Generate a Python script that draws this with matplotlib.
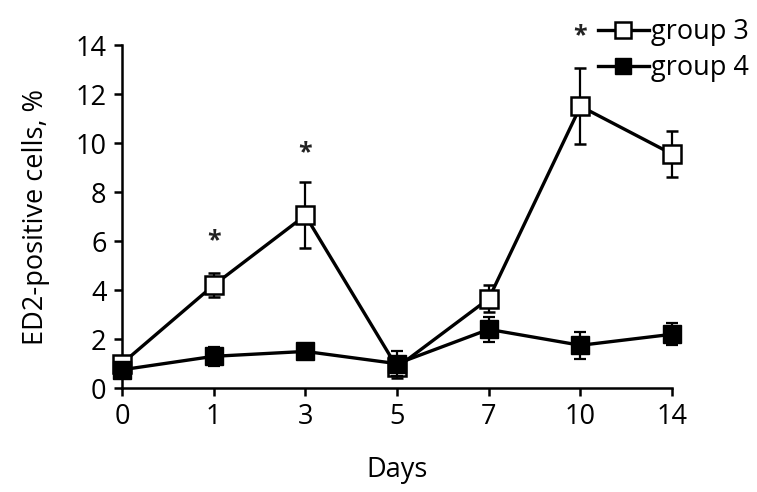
import matplotlib.pyplot as plt
from matplotlib.lines import Line2D

plt.rcParams['font.family'] = ['Open Sans', 'DejaVu Sans']

days = ['0', '1', '3', '5', '7', '10', '14']
group3 = [1.0, 4.2, 7.05, 0.85, 3.65, 11.5, 9.55]
group3_err = [0.2, 0.5, 1.35, 0.45, 0.55, 1.55, 0.95]
group4 = [0.75, 1.3, 1.5, 1.0, 2.4, 1.75, 2.2]
group4_err = [0.2, 0.4, 0.2, 0.5, 0.5, 0.55, 0.45]
star_days = ['1', '3', '10']
star_y = [6.0, 9.6, 14.4]

fig = plt.figure(figsize=(7.57, 4.92), dpi=100)
ax = fig.add_axes([0.161, 0.211, 0.727, 0.6975])

x = list(range(len(days)))

ax.errorbar(x, group3, yerr=group3_err, color='black', lw=2.4, marker='s',
            markersize=13, markerfacecolor='white', markeredgecolor='black',
            markeredgewidth=1.8, ecolor='black', elinewidth=1.6, capsize=4.5,
            capthick=1.6, zorder=3, clip_on=False)
ax.errorbar(x, group4, yerr=group4_err, color='black', lw=2.4, marker='s',
            markersize=13, markerfacecolor='black', markeredgecolor='black',
            ecolor='black', elinewidth=1.6, capsize=4.5, capthick=1.6,
            zorder=4, clip_on=False)

for d, y in zip(star_days, star_y):
    ax.text(days.index(d), y, '*', ha='center', va='center', fontsize=18,
            fontweight='bold', color='#222222')

ax.set_xlim(0, len(days) - 1)
ax.set_ylim(0, 14)
ax.set_xticks(x)
ax.set_xticklabels(days)
ax.set_yticks(range(0, 15, 2))

for s in ['top', 'right']:
    ax.spines[s].set_visible(False)
for s in ['left', 'bottom']:
    ax.spines[s].set_linewidth(1.8)
ax.tick_params(direction='out', length=6, width=1.8, labelsize=19.5, pad=5)

ax.set_xlabel('Days', fontsize=19.5, labelpad=18)
ax.set_ylabel('ED2-positive cells, %', fontsize=19.5, labelpad=18)

h3 = Line2D([], [], color='black', lw=2.4, marker='s', markersize=11,
            markerfacecolor='white', markeredgecolor='black', markeredgewidth=1.8)
h4 = Line2D([], [], color='black', lw=2.4, marker='s', markersize=11,
            markerfacecolor='black', markeredgecolor='black')
ax.legend([h3, h4], ['group 3', 'group 4'], loc='upper left',
          bbox_to_anchor=(0.845, 1.11), frameon=False, fontsize=19.5,
          handlelength=1.9, handletextpad=0.05, labelspacing=0.3,
          borderaxespad=0)

fig.savefig('out.png', dpi=100)
